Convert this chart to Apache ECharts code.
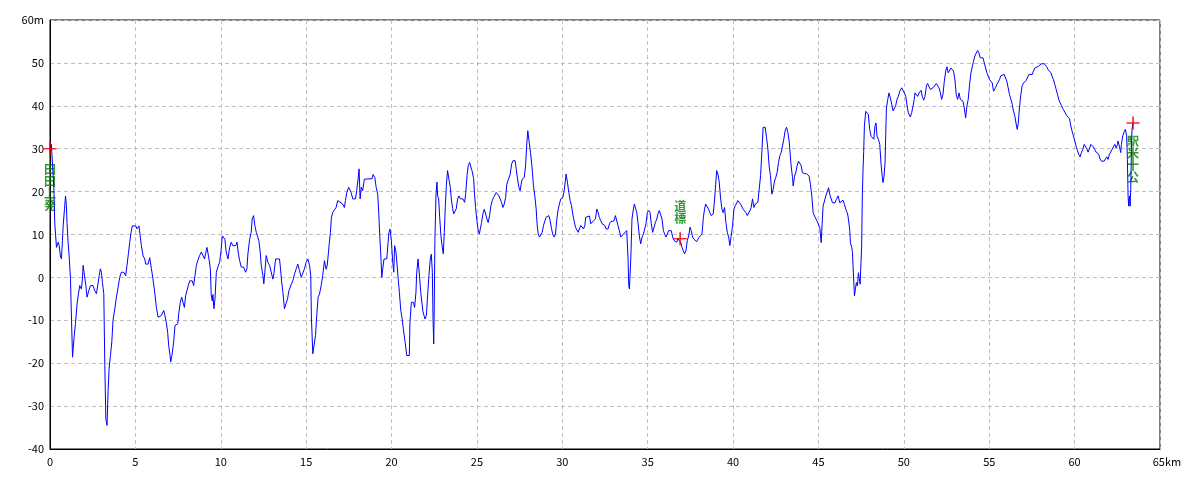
<!DOCTYPE html>
<html>
<head>
<meta charset="utf-8">
<script src="https://cdn.jsdelivr.net/npm/echarts@6/dist/echarts.min.js"></script>
<style>
html,body{margin:0;padding:0;background:#fff;}
#chart{width:1200px;height:480px;}
</style>
</head>
<body>
<div id="chart"></div>
<script>
// distance along the route (km)
const distanceKm = [
0,0.08,0.15,0.22,0.28,0.38,0.48,0.54,0.61,0.67,0.73,0.77,0.85,0.91,0.96,1.0,1.06,1.12,1.2,1.26,1.32,1.35,1.41,1.49,1.59,1.67,1.74,1.84,1.9,1.94,2.02,2.1,2.17,2.25,2.37,2.52,2.62,2.72,2.82,2.88,2.95,3.01,3.07,3.15,3.21,3.27,3.34,3.4,3.46,3.54,3.62,3.69,3.79,3.89,3.99,4.08,4.18,4.32,4.43,4.51,4.59,4.67,4.75,4.82,4.9,5.02,5.1,5.21,5.29,5.35,5.45,5.55,5.6,5.74,5.84,5.94,6.03,6.13,6.23,6.33,6.42,6.52,6.66,6.73,6.81,6.89,6.95,7.03,7.07,7.14,7.24,7.32,7.48,7.55,7.63,7.71,7.79,7.87,7.94,8.02,8.1,8.18,8.26,8.33,8.41,8.49,8.57,8.65,8.76,8.86,8.96,9.05,9.11,9.19,9.25,9.31,9.39,9.44,9.5,9.54,9.6,9.66,9.74,9.83,9.93,10.01,10.09,10.17,10.24,10.32,10.42,10.52,10.61,10.71,10.87,10.95,11.02,11.1,11.2,11.34,11.45,11.53,11.59,11.69,11.78,11.84,11.92,12.0,12.08,12.15,12.23,12.31,12.37,12.47,12.52,12.58,12.66,12.76,12.86,12.95,13.05,13.11,13.21,13.44,13.5,13.56,13.64,13.73,13.83,13.91,13.99,14.06,14.14,14.22,14.32,14.42,14.51,14.61,14.71,14.8,14.9,15.0,15.1,15.2,15.27,15.31,15.39,15.49,15.55,15.62,15.7,15.78,15.88,15.97,16.07,16.17,16.23,16.3,16.36,16.42,16.48,16.56,16.66,16.75,16.85,16.95,17.14,17.24,17.3,17.38,17.49,17.57,17.63,17.73,17.89,17.96,18.04,18.1,18.16,18.23,18.31,18.41,18.51,18.86,18.92,19.02,19.1,19.19,19.25,19.31,19.37,19.43,19.48,19.56,19.72,19.8,19.85,19.91,19.99,20.07,20.13,20.18,20.26,20.32,20.4,20.46,20.54,20.61,20.69,20.81,20.89,20.97,21.04,21.08,21.16,21.28,21.35,21.43,21.47,21.55,21.63,21.71,21.76,21.84,21.96,22.04,22.11,22.19,22.27,22.33,22.39,22.43,22.47,22.5,22.54,22.6,22.66,22.7,22.76,22.82,22.89,22.97,23.03,23.09,23.15,23.21,23.28,23.36,23.44,23.5,23.58,23.64,23.71,23.79,23.87,23.95,24.03,24.18,24.28,24.34,24.42,24.49,24.57,24.63,24.71,24.81,24.86,24.92,25.0,25.06,25.14,25.21,25.27,25.35,25.43,25.51,25.59,25.66,25.74,25.82,25.9,25.97,26.05,26.13,26.21,26.29,26.36,26.44,26.52,26.6,26.68,26.75,26.85,26.95,27.03,27.11,27.24,27.3,27.38,27.46,27.53,27.59,27.65,27.77,27.85,27.92,27.98,28.06,28.14,28.22,28.31,28.41,28.47,28.53,28.59,28.66,28.74,28.82,28.9,28.98,29.05,29.13,29.21,29.29,29.37,29.44,29.52,29.6,29.68,29.76,29.83,29.91,30.03,30.11,30.17,30.22,30.3,30.38,30.46,30.54,30.61,30.69,30.77,30.85,30.93,31.0,31.08,31.24,31.32,31.37,31.47,31.59,31.67,31.74,31.82,31.94,32.02,32.1,32.17,32.25,32.33,32.41,32.49,32.56,32.68,32.76,32.84,32.91,33.03,33.11,33.19,33.26,33.34,33.42,33.5,33.58,33.67,33.77,33.85,33.89,33.93,34.01,34.08,34.16,34.22,34.3,34.36,34.43,34.51,34.59,34.67,34.75,34.82,34.9,34.98,35.06,35.14,35.21,35.29,35.37,35.45,35.53,35.6,35.68,35.76,35.84,35.92,35.99,36.07,36.15,36.23,36.31,36.38,36.46,36.54,36.62,36.7,36.77,36.85,36.93,37.01,37.09,37.16,37.24,37.32,37.4,37.48,37.55,37.63,37.71,37.79,37.87,37.94,38.02,38.1,38.18,38.26,38.33,38.39,38.45,38.57,38.64,38.72,38.84,38.92,38.98,39.04,39.11,39.19,39.27,39.35,39.42,39.5,39.58,39.66,39.74,39.81,39.89,39.97,40.05,40.13,40.2,40.28,40.36,40.44,40.52,40.59,40.67,40.75,40.83,40.91,40.98,41.06,41.14,41.22,41.3,41.37,41.45,41.53,41.61,41.69,41.76,41.88,41.96,42.04,42.11,42.19,42.27,42.35,42.43,42.5,42.58,42.66,42.74,42.82,42.89,42.97,43.05,43.13,43.21,43.29,43.4,43.48,43.52,43.6,43.67,43.75,43.83,43.91,43.99,44.06,44.18,44.3,44.38,44.45,44.53,44.61,44.69,44.77,44.84,44.92,45.0,45.08,45.16,45.22,45.27,45.35,45.43,45.51,45.59,45.66,45.74,45.82,45.97,46.05,46.15,46.25,46.35,46.44,46.52,46.6,46.68,46.73,46.83,46.87,46.95,46.99,47.07,47.11,47.16,47.22,47.28,47.34,47.38,47.44,47.49,47.53,47.57,47.61,47.65,47.69,47.77,47.87,47.92,48.0,48.08,48.16,48.24,48.31,48.37,48.43,48.51,48.59,48.66,48.74,48.78,48.84,48.9,48.94,48.98,49.06,49.13,49.21,49.29,49.37,49.45,49.52,49.6,49.68,49.76,49.87,49.95,50.03,50.11,50.19,50.26,50.38,50.46,50.54,50.61,50.65,50.73,50.81,50.89,51.01,51.08,51.16,51.24,51.32,51.39,51.47,51.55,51.63,51.71,51.82,51.9,51.98,52.06,52.14,52.21,52.29,52.37,52.45,52.52,52.6,52.68,52.76,52.84,52.91,52.99,53.07,53.15,53.23,53.31,53.38,53.46,53.54,53.62,53.69,53.77,53.85,53.93,54.01,54.08,54.16,54.24,54.32,54.4,54.47,54.63,54.71,54.79,54.86,54.94,55.02,55.1,55.18,55.25,55.29,55.37,55.45,55.53,55.6,55.68,55.76,55.88,55.96,56.03,56.11,56.19,56.27,56.35,56.42,56.5,56.58,56.64,56.7,56.77,56.85,56.93,57.01,57.09,57.16,57.24,57.32,57.4,57.52,57.59,57.67,57.75,57.87,57.98,58.06,58.14,58.22,58.3,58.37,58.45,58.53,58.61,58.68,58.76,58.84,58.92,59.0,59.07,59.15,59.23,59.31,59.39,59.46,59.54,59.62,59.7,59.78,59.85,59.93,60.01,60.09,60.17,60.24,60.32,60.4,60.48,60.56,60.63,60.71,60.79,60.87,60.95,61.02,61.1,61.18,61.26,61.34,61.41,61.49,61.57,61.73,61.8,61.88,61.96,62.04,62.12,62.19,62.27,62.35,62.43,62.51,62.54,62.58,62.62,62.7,62.74,62.82,62.89,62.97,63.05,63.09,63.13,63.17,63.21,63.25,63.29,63.33,63.36,63.4,63.42
];
// elevation (m)
const elevationM = [
30,31,26,21.4,12.5,7,8.2,7.4,5,4.3,8.6,12,16,19,16.7,12.5,8.2,5,-0.3,-10,-18.6,-19,-14,-10.8,-6,-3.8,-1.9,-2.7,-0.4,2.8,0.4,-1.9,-4.6,-3.4,-1.9,-1.9,-3.1,-3.8,-3.4,0.4,2,1.2,-1.2,-3.8,-20.5,-33,-34.5,-26.7,-21.3,-18.2,-15,-10,-7.4,-4.6,-2.3,0,1.2,1.2,0.4,2.8,5.5,8.2,10.5,12,11.6,12,11.3,12,11.6,7.4,5,4.3,3.1,3.1,4.6,2,-0.4,-3.4,-7,-9.3,-9.7,-8.9,-7.7,-8.9,-10.5,-12.8,-15.9,-18.2,-19.7,-18.2,-15.1,-11.2,-10.8,-8.1,-5.8,-4.6,-5.8,-7,-4.3,-3.9,-1.9,-0.8,-0.4,-0.8,-1.9,0.4,2.8,3.9,5.1,5.9,5.5,4.3,5.5,7,7,4.3,2,-4,-5.5,-4,-7.3,-5.1,1.2,2.4,3.5,5.9,9.7,10.1,8.9,5.9,4.3,7,8.2,7.4,7.4,8.2,5.9,4,2.4,2.4,1.2,2,5.5,8.9,10.5,13.6,14.4,12,10.5,10.9,8.6,5.9,2.8,0.4,-1.5,1.2,5.1,3.5,2.8,2.4,-0.4,0.8,4.3,4.3,2,-0.8,-3.5,-7.3,-7,-5,-3.1,-2.7,-1.5,-0.8,0.8,2,3.1,1.6,0,0,2,3.5,4.3,2.8,0.4,-9.7,-17.8,-17.4,-13.5,-8.9,-4.6,-3.9,-1.9,0.4,3.9,1.9,2.7,5.5,8.2,10.5,14,15.2,14.8,16.3,17.9,17.5,17.1,16.3,17.9,19.8,21,20.7,19.8,18.3,18.3,20.2,22.9,25.3,18.3,21,20.2,22.9,23,23,24,23.3,21,19.4,15.2,9.7,5.5,0,1.9,4.3,4.3,8.2,10.5,11.3,8.6,3.5,1.2,7.4,5.9,3.1,-0.8,-3.5,-7.7,-9.3,-12,-15.5,-18.2,-18.6,-18.2,-10.5,-5.8,-5.8,-7,-3.5,0.8,4.3,0.8,-3.5,-3.4,-8,-9.7,-8.9,-4.3,0.4,4.3,5.4,1.2,-9.7,-15.5,-7.3,8.6,19,22.2,19,18.3,14,9.7,7,5.5,10.5,16.7,21.4,24.9,24.9,21,18.3,16,14.8,14.4,16,18.3,19,18.3,18.3,17.5,19.4,23.7,26,26.8,27.2,24.9,23,19.4,16.3,13.2,11.3,10.1,10.5,12.8,14.8,15.9,14.8,13.6,12.8,14.4,16.7,17.9,18.6,19,19.8,19.8,19,18.6,17.5,16.3,17.1,18.6,21.7,22.9,24.1,26.4,27.2,27.2,25.3,22.9,21,20.2,21.7,22.9,23.3,26,31.1,34.2,31.5,29.1,26,21.4,18.3,15.9,12.1,10.1,9.4,9.7,10.5,12.1,13.2,14,14,14.4,13.2,11.3,10.1,9.4,10.1,13.6,15.9,17.1,18.3,18.6,20.2,22.2,24.1,22.2,19.8,17.9,16.7,14.8,13.2,11.7,11.3,10.5,11.3,12.1,11.3,12.1,14,14.4,14.3,12.5,12.8,13.2,13.6,15.9,15.1,14,13.2,12.5,12.5,12.1,11.3,11.3,12.5,13,13.2,13.2,14.4,14,12.1,10.9,9.4,9.4,10.1,10.5,10.9,4.3,-1.9,-2.7,4.3,13.6,15.9,17.1,17.1,15.1,12.8,9.7,7.8,9.4,10.1,10.5,12.5,15.1,15.6,15.1,12.5,10.5,10.5,12.8,13.6,14.8,15.6,15.9,13.6,10.9,10.1,9.4,10.1,10.9,10.9,10.9,9.4,8.6,8.6,8.2,9,8.6,8.2,7,6.2,5.5,6.2,8.6,9.7,11.7,10.9,9.4,8.9,8.9,8.3,8.9,9.4,9.7,10.1,14,15.9,17.1,16.7,15.9,15.1,14.4,14.8,18.3,21.7,24.9,24.1,22.2,18.3,15.9,15.1,16.3,12.8,10.5,9.4,7.4,7.4,12.1,15.9,16.7,17.1,17.9,17.5,17.1,16.7,15.9,15.5,15.1,14.4,14.8,15.5,16.3,18.3,16.3,17.1,17.1,17.5,20.6,23.7,29.5,35,35,32.6,29.9,26,23.7,19.4,20.6,22.5,23.3,24.5,26.8,28.4,29.1,29.5,32.2,34.2,35,33.8,31.5,26,23.3,21.3,23.6,24.4,26,27.1,26.7,26,24.4,24.2,24.2,24,23.6,21.7,19,15.1,14.3,14.7,13.1,12.8,11.6,8.1,12.7,16.6,17.8,19,19.4,20.9,19.4,19,17.4,17.4,18.2,19,17.4,17.8,18,17,15.9,15.1,14.3,11.2,8.1,7,5.8,-1.2,-4.3,-2.8,-1.2,-2,1.1,0.7,-1.6,3.4,7.3,19.4,25.2,29.4,35.3,38.7,39,38,34.5,32.9,32.9,32.2,35.3,36,32.9,32.2,31,26.7,23.3,22.1,23.6,26.7,33.3,39.5,41.5,43,41.9,40.3,38.8,38.4,40,41.5,42.2,43.4,44.2,43.8,43,42.2,40,38.4,37.4,38.4,40,41.5,43,43.2,42.2,43,43.6,42.2,41.3,42.2,44.6,45.2,45,43.8,43.4,44.2,44.4,45.2,45,44.2,43,41.5,42.6,45.7,48.1,49.1,47.7,48.1,48.8,49.1,48.1,46.1,42.6,41.5,43,41.5,41.1,41.1,39.5,37.2,39.9,41.5,45,47.7,49.2,50.4,51.6,52.3,52.9,52.3,51.2,51.2,50.8,48.8,47.7,46.9,46.1,46,45.3,43.4,43,44.2,45,45.3,46.1,47,47.3,47.3,46.9,45.7,44.2,42.6,41.5,40.3,38.8,37.6,35.7,34.5,36,39.5,42.6,44.7,45.3,45.3,45.9,46.3,47.3,47.3,47.3,48.1,48.8,49.1,49.2,49.2,49.8,50,49.8,49.4,49.1,48.4,48.1,47.7,46.9,46.1,45,43.8,42.6,41.5,40.7,40.1,39.3,38.8,38.4,37.7,37.4,37,35.3,34.1,33,31.8,30.6,29.5,28.7,28.1,29.1,29.8,31,31,30,29.2,30,31,31,30.4,29.8,29.2,28.9,28.7,27.6,27.1,27.1,27.5,28.1,27.5,28.7,29.1,29.8,30.4,31,30.2,31,31.8,31.4,30.6,29.1,31,33,33.8,34.5,33,27.5,19,16.6,19,16.6,21.3,30.5,34.5,35.5,36
];
// waypoints
const waypointKm = [0, 36.9, 63.42];
const waypointM = [30, 9, 36];
const waypointNames = ['田田上発', '道標', '駅米十公'];
const waypointPos = ['bottom', 'top', 'bottom'];
const waypointDist = [8, 8, 6];
// axis ticks
const xTicks = [0,5,10,15,20,25,30,35,40,45,50,55,60,65];
const yTicks = [-40,-30,-20,-10,0,10,20,30,40,50,60];

const FONT = '"Noto Sans CJK JP", "DejaVu Sans", sans-serif';
const chart = echarts.init(document.getElementById('chart'), null, {renderer: 'canvas'});
const profile = distanceKm.map((d, i) => [d, elevationM[i]]);
const points = waypointKm.map((d, i) => ({
  value: [d, waypointM[i]],
  name: waypointNames[i],
  label: {position: waypointPos[i], distance: waypointDist[i]}
}));
const grayDash = {color: '#c0c0c0', width: 1, type: [4, 3]};
chart.setOption({
  animation: false,
  backgroundColor: '#ffffff',
  grid: {left: 50, right: 40, top: 20, bottom: 31, show: true, borderColor: '#000', borderWidth: 1, backgroundColor: 'transparent'},
  xAxis: {
    type: 'value', min: xTicks[0], max: xTicks[xTicks.length - 1], interval: 5,
    axisLine: {show: true, onZero: false, lineStyle: {color: '#000', width: 1}},
    axisTick: {show: false},
    splitLine: {show: true, lineStyle: grayDash},
    axisLabel: {
      color: '#000', fontSize: 11, fontFamily: FONT, margin: 7,
      formatter: v => v === 65 ? '{e|65km}' : String(v),
      rich: {e: {color: '#000', fontSize: 11, fontFamily: FONT, padding: [0, 0, 0, 14]}}
    }
  },
  yAxis: {
    type: 'value', min: yTicks[0], max: yTicks[yTicks.length - 1], interval: 10,
    axisLine: {show: true, onZero: false, lineStyle: {color: '#000', width: 1}},
    axisTick: {show: false},
    splitLine: {show: true, lineStyle: grayDash},
    axisLabel: {
      color: '#000', fontSize: 11, fontFamily: FONT, margin: 6,
      formatter: v => v === 60 ? '60m' : String(v)
    }
  },
  series: [
    {
      type: 'line', data: profile, showSymbol: false, symbol: 'none',
      lineStyle: {color: '#0000ff', width: 1}, z: 3, silent: true
    },
    {
      type: 'scatter', data: points, clip: false, z: 2,
      symbol: 'path://M0,5.5h11v1h-11z M5,0h1v12h-1z', symbolSize: [13, 13],
      itemStyle: {color: '#ff0000'},
      label: {
        show: true, color: '#008000', fontSize: 12, fontWeight: 'bold', fontFamily: FONT, lineHeight: 12,
        formatter: p => p.name.split('').join('\n')
      }
    },
    {
      type: 'scatter', data: points.map(p => ({value: p.value})), clip: false, z: 4,
      symbol: 'path://M0,5.5h11v1h-11z M5,0h1v12h-1z', symbolSize: [13, 13],
      itemStyle: {color: '#ff0000'}, silent: true
    }
  ]
});
</script>
</body>
</html>
